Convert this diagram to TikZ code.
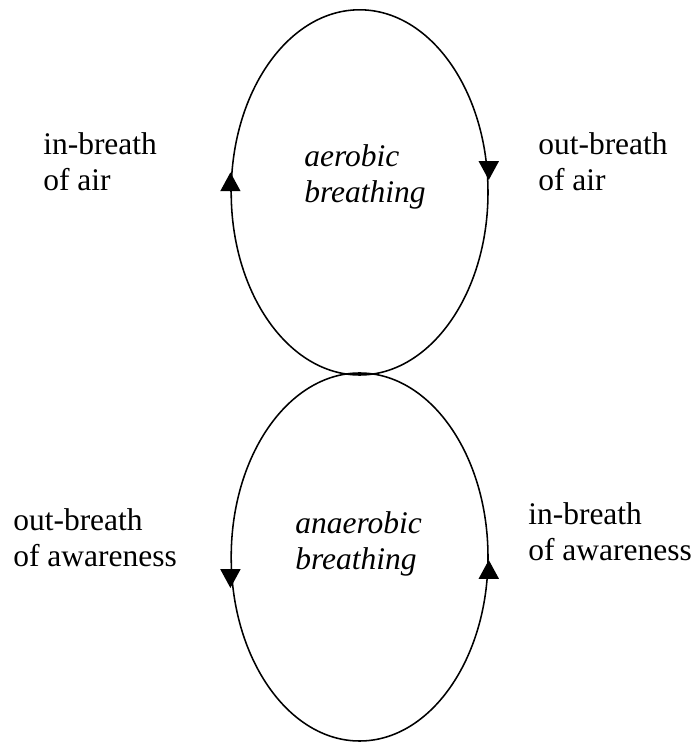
\documentclass[tikz,border=0pt]{standalone}
\usepackage{fontspec}
\setmainfont{Liberation Serif}
\usetikzlibrary{positioning,shapes.geometric,arrows.meta,calc}

\begin{document}
\begin{tikzpicture}[
  loop/.style={draw, ellipse, line width=1.1pt, inner sep=0pt, minimum width=6.42cm},
  side/.style={anchor=base west, align=left, inner sep=0pt, font=\fontsize{22.4}{26.3}\selectfont},
  inside/.style={anchor=base west, align=left, inner sep=0pt, font=\fontsize{22.4}{26}\selectfont\itshape},
  flow/.style={line width=1.1pt, -{Triangle[width=0.5cm,length=0.47cm]}}]
\useasboundingbox (0,0) rectangle (17.425,18.55);
\node[loop, minimum height=9.13cm] (aer) at (8.99,13.74) {};
\node[loop, minimum height=9.2cm] (ana) at (8.99,4.625) {};
\node[inside] (aertext) at (7.6,13.475) {aerobic\\breathing};
\node[inside] (anatext) at (7.375,4.3) {anaerobic\\breathing};
\node[side] (inair) at (1.075,13.775) {in-breath\\of air};
\node[side] (outair) at (13.45,13.775) {out-breath\\of air};
\node[side] (outaw) at (0.325,4.375) {out-breath\\of awareness};
\node[side] (inaw) at (13.2,4.525) {in-breath\\of awareness};
\draw[flow] ($(aer.west)+(0,0.03)$) -- ($(aer.west)+(0,0.5)$);
\draw[flow] ($(aer.east)+(0,0.76)$) -- ($(aer.east)+(0,0.31)$);
\draw[flow] ($(ana.west)+(0,-0.325)$) -- ($(ana.west)+(0,-0.775)$);
\draw[flow] ($(ana.east)+(0,-0.55)$) -- ($(ana.east)+(0,-0.075)$);
\end{tikzpicture}
\end{document}
